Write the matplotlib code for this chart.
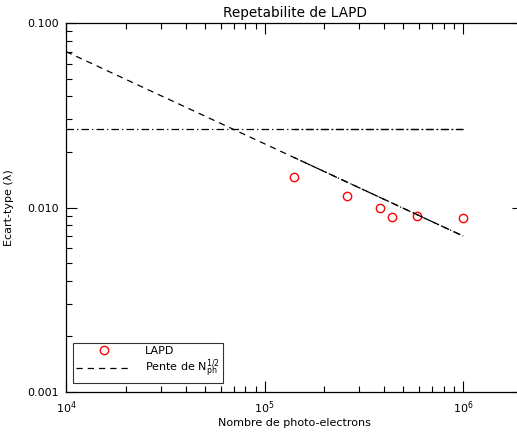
import numpy as np
import matplotlib
matplotlib.use("Agg")
import matplotlib.pyplot as plt
from matplotlib.ticker import LogLocator, FixedLocator, FixedFormatter, NullFormatter

# LAPD measurements
n_photo = [1.4e5, 2.6e5, 3.8e5, 4.4e5, 5.85e5, 1.0e6]
ecart = [0.0147, 0.0115, 0.0099, 0.0089, 0.0090, 0.0088]

# reference lines
n_line = [1e4, 1e6]
n_fit = [1.4e5, 1e6]
pente_coef = 7.0     # ecart = coef / sqrt(N)
plateau = 0.0266

plt.rcParams["font.family"] = ["DejaVu Sans"]
plt.rcParams["font.size"] = 8

fig = plt.figure(figsize=(5.17, 4.32), dpi=100)
ax = fig.add_axes([66 / 517, 40 / 432, 457 / 517, 369 / 432])

ax.plot(n_photo, ecart, "o", mfc="none", mec="red", ms=6, mew=1.0, label="LAPD")
n_arr = np.array(n_line)
ax.plot(n_arr, pente_coef / np.sqrt(n_arr), "k", ls=(0, (5, 4)), lw=0.9,
        label=r"Pente de $\mathregular{N_{ph}^{1/2}}$")
nf = np.array(n_fit)
ax.plot(nf, pente_coef / np.sqrt(nf), "k", ls=(2, (6, 2, 1, 2)), lw=0.9)
ax.plot(n_line, [plateau, plateau], "k", ls=(0, (6, 2.5, 1, 2.5)), lw=0.9)
ax.plot(n_fit, [plateau, plateau], "k", ls=(3, (6, 2.5, 1, 2.5)), lw=0.9)

ax.set_xscale("log")
ax.set_yscale("log")
ax.set_xlim(1e4, 2e6)
ax.set_ylim(1e-3, 1e-1)

ax.yaxis.set_major_locator(FixedLocator([0.001, 0.01, 0.1]))
ax.yaxis.set_major_formatter(FixedFormatter(["0.001", "0.010", "0.100"]))
ax.yaxis.set_minor_locator(LogLocator(base=10, subs=np.arange(2, 10)))
ax.yaxis.set_minor_formatter(NullFormatter())
ax.xaxis.set_minor_locator(LogLocator(base=10, subs=np.arange(2, 10)))
ax.xaxis.set_minor_formatter(NullFormatter())

ax.tick_params(which="both", direction="in", top=True, right=True, width=0.8)
ax.tick_params(which="major", length=8, pad=5)
ax.tick_params(which="minor", length=4)
for s in ax.spines.values():
    s.set_linewidth(0.9)

ax.set_title("Repetabilite de LAPD", fontsize=9.8, pad=4)
ax.set_xlabel("Nombre de photo-electrons", labelpad=2)
ax.set_ylabel("Ecart-type (λ)", labelpad=10)

leg = ax.legend(loc="lower left", bbox_to_anchor=(0.015, 0.024), borderaxespad=0,
                frameon=True, fancybox=False, edgecolor="black", handlelength=5.0,
                borderpad=0.3, labelspacing=0.1, handletextpad=1.2)
leg.get_frame().set_linewidth(0.8)

fig.savefig("out.png", dpi=100)
